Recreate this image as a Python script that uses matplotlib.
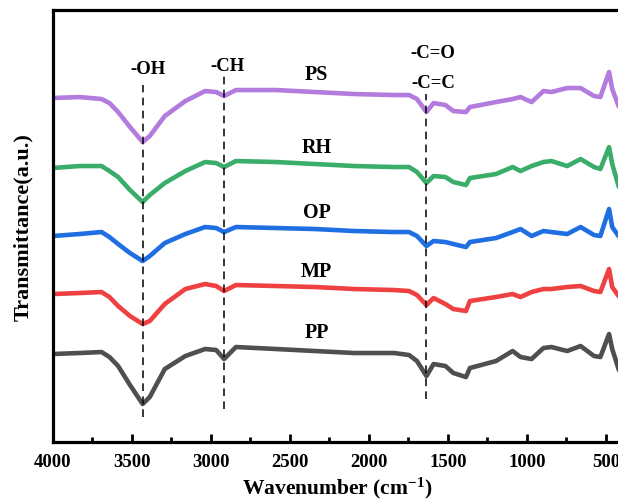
import matplotlib
matplotlib.use("Agg")
import matplotlib.pyplot as plt
from matplotlib.ticker import MultipleLocator

plt.rcParams['font.family'] = ['Liberation Serif', 'DejaVu Serif']
plt.rcParams['font.weight'] = 'bold'
plt.rcParams['mathtext.fontset'] = 'custom'
plt.rcParams['mathtext.rm'] = 'Liberation Serif:bold'
plt.rcParams['mathtext.it'] = 'Liberation Serif:bold'
plt.rcParams['mathtext.bf'] = 'Liberation Serif:bold'

# ---- data (wavenumber in cm^-1, transmittance in a.u., spectra stacked as in the figure) ----
wavenumber = [4000, 3830, 3690, 3640, 3585, 3510, 3430, 3385, 3290, 3160,
              3035, 2965, 2915, 2840, 2585, 2340, 2090, 1840, 1745, 1695,
              1635, 1590, 1515, 1465, 1385, 1360, 1195, 1090, 1040, 970,
              895, 845, 745, 660, 575, 535, 480, 460, 420, 400]

PS = [344, 345, 343, 339, 330, 315, 300, 306, 326, 341,
      351, 350, 346, 352, 352, 350, 348, 347, 347, 343,
      330, 339, 337, 331, 330, 335, 340, 343, 345, 340,
      351, 350, 354, 354, 346, 345, 370, 353, 336, 331]
RH = [274, 276, 276, 271, 265, 252, 240, 247, 259, 271,
      280, 279, 275, 281, 280, 278, 276, 275, 275, 270,
      259, 266, 265, 260, 257, 264, 268, 275, 271, 276,
      280, 281, 276, 283, 275, 273, 295, 278, 256, 248]
OP = [206, 208, 210, 205, 198, 189, 181, 186, 199, 208,
      215, 214, 210, 215, 214, 213, 211, 210, 210, 206,
      196, 201, 200, 198, 195, 200, 204, 210, 213, 206,
      211, 210, 208, 215, 207, 206, 233, 215, 206, 203]
MP = [148, 149, 150, 145, 136, 126, 118, 121, 138, 153,
      158, 156, 151, 157, 156, 155, 153, 152, 151, 147,
      137, 144, 138, 133, 131, 141, 145, 148, 145, 150,
      153, 153, 155, 156, 151, 150, 173, 155, 146, 143]
PP = [88, 89, 90, 85, 76, 57, 38, 45, 73, 86,
      93, 92, 83, 95, 93, 91, 89, 89, 87, 81,
      66, 78, 76, 69, 65, 74, 81, 91, 85, 83,
      94, 95, 91, 96, 86, 85, 108, 93, 73, 65]

series_names = ['PS', 'RH', 'OP', 'MP', 'PP']
series_values = [PS, RH, OP, MP, PP]
colors = ['#B27BDD', '#3AAD6A', '#1F6FE3', '#EF4141', '#4F4F4F']

# functional group positions (cm^-1)
group_wn = [3430, 2915, 1635]

fig = plt.figure(figsize=(6.18, 5.02), dpi=100)
ax = fig.add_axes([0.085, 0.1175, 0.921, 0.8605])

for name, vals, c in zip(series_names, series_values, colors):
    ax.plot(wavenumber, vals, color=c, lw=3.3, solid_joinstyle='round',
            solid_capstyle='round', label=name)

ax.set_xlim(4000, 400)
ax.set_ylim(0, 432)

# dashed marker lines
dash_ranges = [(25, 357), (33, 366), (43, 348)]
for wn, (y0, y1) in zip(group_wn, dash_ranges):
    ax.plot([wn, wn], [y0, y1], color='black', lw=1.1, ls=(0, (5, 3.5)))

# group labels
ax.text(3399, 374, '-OH', ha='center', va='center', fontsize=13.5, fontweight='bold')
ax.text(2896, 377, '-CH', ha='center', va='center', fontsize=13.5, fontweight='bold')
ax.text(1592, 390, '-C=O', ha='center', va='center', fontsize=13.5, fontweight='bold')
ax.text(1592, 360, '-C=C', ha='center', va='center', fontsize=13.5, fontweight='bold')

# series labels
label_y = [368, 295, 230, 171, 110]
for name, y in zip(series_names, label_y):
    ax.text(2330, y, name, ha='center', va='center', fontsize=14.5, fontweight='bold')

# axes styling
for s in ax.spines.values():
    s.set_linewidth(2.3)
ax.set_yticks([])
ax.xaxis.set_major_locator(MultipleLocator(500))
ax.xaxis.set_minor_locator(MultipleLocator(250))
ax.tick_params(axis='x', which='major', direction='in', length=6, width=2,
               labelsize=13.5, pad=8)
ax.tick_params(axis='x', which='minor', direction='in', length=3.5, width=2)
for lbl in ax.get_xticklabels():
    lbl.set_fontweight('bold')

ax.set_xlabel(r'Wavenumber (cm$^{-1}$)', fontsize=15.5, fontweight='bold', labelpad=3)
ax.set_ylabel('Transmittance(a.u.)', fontsize=16, fontweight='bold', labelpad=14)

fig.savefig('out.png', dpi=100)
